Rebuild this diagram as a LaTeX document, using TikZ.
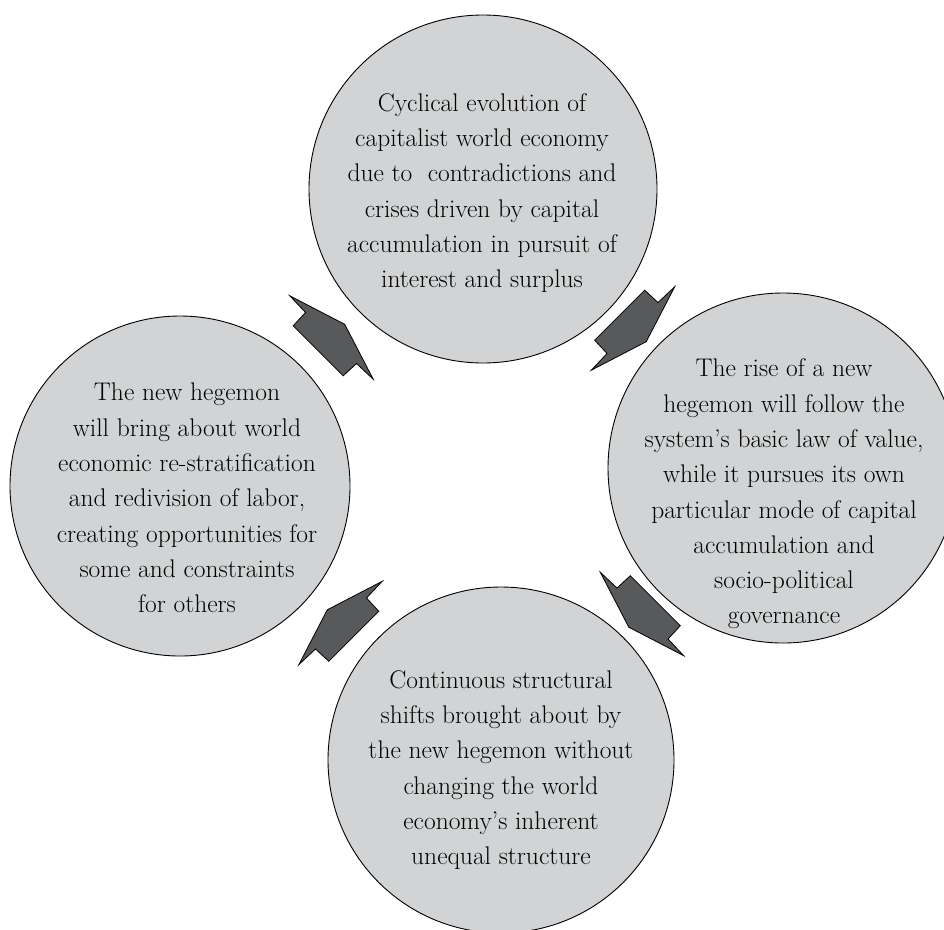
\documentclass[tikz,border=0pt]{standalone}
\usepackage{fontspec}
\setmainfont{Latin Modern Roman}
\usetikzlibrary{calc}
\definecolor{bubblegray}{HTML}{D1D3D4}
\definecolor{arrowgray}{HTML}{58595B}
\tikzset{
  bubble/.style={circle,draw=black,line width=0.9pt,fill=bubblegray,inner sep=0pt},
  bubbletext/.style={align=center,inner sep=0pt,font=\fontsize{25.5}{35.3}\selectfont},
  arrowshape/.style={fill=arrowgray,draw=black,line width=0.8pt,line join=miter},
  cyclearrow/.pic={\path[arrowshape] (-41.7,-41.7) -- (13.2,-13.2) -- (41.7,41.7) -- (25,26) -- (11.7,38.3) -- (-38.3,-11.7) -- (-26,-25) -- cycle;}
}
\begin{document}
\begin{tikzpicture}[x=1pt,y=-1pt]
\useasboundingbox (0,0) rectangle (944,929);
\clip (0,0) rectangle (944,929);
\node[bubble,minimum size=348pt] (top) at (483,189) {};
\node[bubble,minimum size=350pt] (right) at (783,468) {};
\node[bubble,minimum size=346pt] (bottom) at (501,760) {};
\node[bubble,minimum size=340pt] (left) at (180,486) {};
\node[bubbletext] (toptext) at (482,193) {Cyclical evolution of\\capitalist world economy\\due to~ contradictions and\\crises driven by capital\\accumulation in pursuit of\\interest and surplus};
\node[bubbletext] (righttext) at (784,494) {The rise of a new\\hegemon will follow the\\system's basic law of value,\\while it pursues its own\\particular mode of capital\\accumulation and\\socio-political\\governance};
\node[bubbletext] (bottomtext) at (501,770) {Continuous structural\\shifts brought about by\\the new hegemon without\\changing the world\\economy's inherent\\unequal structure};
\node[bubbletext] (lefttext) at (187,498) {The new hegemon\\will bring about world\\economic re-stratification\\and redivision of labor,\\creating opportunities for\\some and constraints\\for others};
\coordinate (m1) at ($(left)!0.5!(top)$);
\coordinate (m2) at ($(top)!0.5!(right)$);
\coordinate (m3) at ($(right)!0.5!(bottom)$);
\coordinate (m4) at ($(bottom)!0.5!(left)$);
\pic at (m1) {cyclearrow};
\pic[rotate=-90] at (m2) {cyclearrow};
\pic[rotate=180] at (m3) {cyclearrow};
\pic[rotate=90] at (m4) {cyclearrow};
\end{tikzpicture}
\end{document}
